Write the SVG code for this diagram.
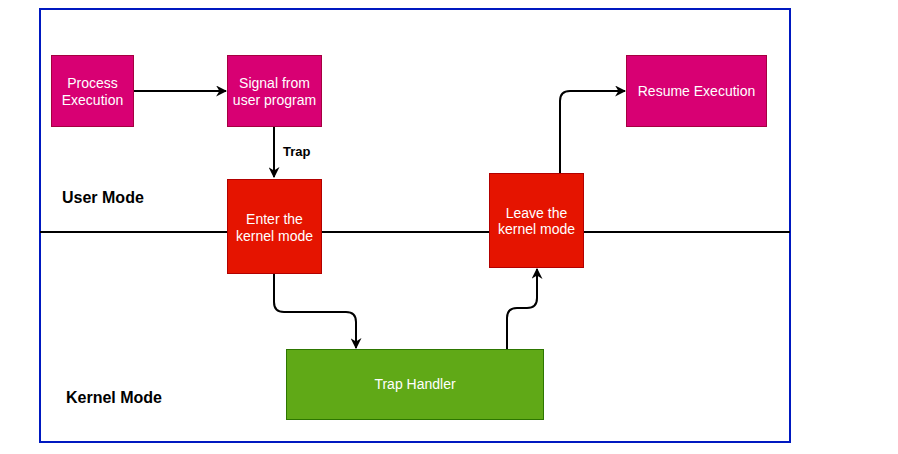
<svg xmlns="http://www.w3.org/2000/svg" width="898" height="454" viewBox="0 0 898 454">
<style>
.lbl{font-family:"Liberation Sans",Arial,sans-serif;font-size:14px;fill:#fff;text-anchor:middle}
.mode{font-family:"Liberation Sans",Arial,sans-serif;font-size:16px;font-weight:bold;fill:#000}
.pink{fill:#d80073;stroke:#a50040;stroke-width:1}
.red{fill:#e51400;stroke:#b20000;stroke-width:1}
.green{fill:#60a917;stroke:#2d7600;stroke-width:1}
.conn{fill:none;stroke:#000;stroke-width:2;marker-end:url(#arr)}
</style>
<defs>
<marker id="arr" viewBox="0 0 10 10" refX="9" refY="5" markerWidth="5.5" markerHeight="5.5" orient="auto" markerUnits="strokeWidth">
<path d="M0,0 L10,5 L0,10 L3,5 Z" fill="#000"/>
</marker>
</defs>
<rect x="0" y="0" width="898" height="454" fill="#fff"/>
<g id="frame">
<rect x="40" y="9" width="750" height="433" fill="none" stroke="#0019c0" stroke-width="2"/>
<line x1="40" y1="232" x2="790" y2="232" stroke="#000" stroke-width="2"/>
<text class="mode" x="62" y="203">User Mode</text>
<text class="mode" x="66" y="403">Kernel Mode</text>
</g>
<g id="connectors">
<path class="conn" d="M134,91 L226,91"/>
<path class="conn" d="M274,127 L274,177"/>
<text x="283" y="156" style="font-family:'Liberation Sans',Arial,sans-serif;font-size:13px;font-weight:bold">Trap</text>
<path class="conn" d="M274,273 L274,302 Q274,312 284,312 L346,312 Q356,312 356,322 L356,348"/>
<path class="conn" d="M507,349 L507,318 Q507,308 517,308 L527,308 Q537,308 537,298 L537,269"/>
<path class="conn" d="M560,173 L560,101 Q560,91 570,91 L625,91"/>
</g>
<g id="process-execution">
<rect class="pink" x="51.5" y="55.5" width="82" height="71"/>
<text class="lbl" x="92.5" y="88">Process</text>
<text class="lbl" x="92.5" y="104.5">Execution</text>
</g>
<g id="signal">
<rect class="pink" x="227.5" y="55.5" width="94" height="71"/>
<text class="lbl" x="274.5" y="88">Signal from</text>
<text class="lbl" x="274.5" y="104.5">user program</text>
</g>
<g id="enter-kernel">
<rect class="red" x="227.5" y="179.5" width="94" height="94"/>
<text class="lbl" x="274.5" y="224">Enter the</text>
<text class="lbl" x="274.5" y="240.5">kernel mode</text>
</g>
<g id="leave-kernel">
<rect class="red" x="489.5" y="173.5" width="94" height="94"/>
<text class="lbl" x="536.5" y="217.5">Leave the</text>
<text class="lbl" x="536.5" y="234">kernel mode</text>
</g>
<g id="resume">
<rect class="pink" x="626.5" y="55.5" width="140" height="71"/>
<text class="lbl" x="696.5" y="96">Resume Execution</text>
</g>
<g id="trap-handler">
<rect class="green" x="286.5" y="349.5" width="257" height="70"/>
<text class="lbl" x="415" y="389">Trap Handler</text>
</g>
</svg>
